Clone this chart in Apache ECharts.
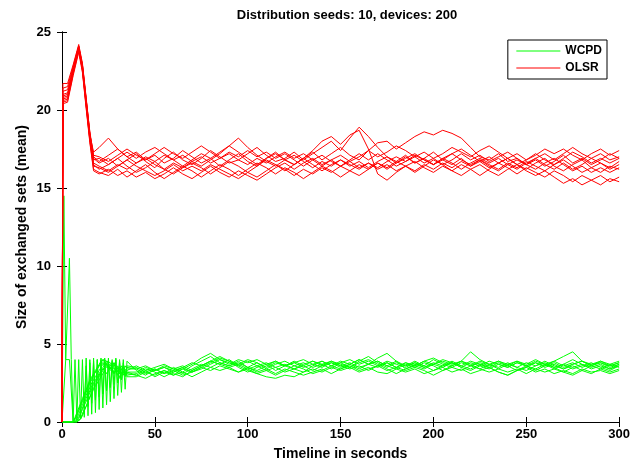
<!DOCTYPE html>
<html>
<head>
<meta charset="utf-8">
<script src="https://cdn.jsdelivr.net/npm/echarts@6/dist/echarts.min.js"></script>
<style>
  html, body { margin: 0; padding: 0; background: #fff; }
  #chart { width: 633px; height: 466px; }
</style>
</head>
<body>
<div id="chart"></div>
<script>
// ---------------- data ----------------
var xTicks = [0, 50, 100, 150, 200, 250, 300];
var yTicks = [0, 5, 10, 15, 20, 25];

// sample times (s)
var redHead = [0, 0.5, 3, 6, 9, 11, 13, 15, 17];
var greenHead = [0,1,2,3,4,5,6,7,8,9,10,11,12,13,14,15,16,17,18,19,20,21,22,23,24,25,26,27,28,29,30,31,32,33,34,35];
var tail = [20,25,30,35,40,45,50,55,60,65,70,75,80,85,90,95,100,105,110,115,120,125,130,135,140,145,150,155,160,165,170,175,180,185,190,195,200,205,210,215,220,225,230,235,240,245,250,255,260,265,270,275,280,285,290,295,300];

// OLSR runs (red): head at redHead, then tail 20..300
var olsr1 = [0,21.7,21.7,22.9,24.2,23.0,20.8,18.5,16.9,
  16.6,16.9,16.4,16.8,17.2,16.7,16.3,16.9,17.3,16.8, 16.5,16.9,17.4,17.0,16.6,16.8,17.2,17.6,17.1,16.7,
  16.9,17.3,16.8,17.2,17.6,18.0,17.4,18.2,18.9,18.3, 17.6,17.0,16.7,17.1,16.6,16.9,17.3,16.8,16.5,16.9,
  16.4,16.7,16.3,16.6,16.9,16.5,16.2,16.6,16.9,16.4, 16.1,16.5,16.8,16.3,16.0,16.4,16.2];
var olsr2 = [0,21.4,21.5,22.8,24.1,22.8,20.6,18.4,17.3,
  17.6,18.2,17.5,17.0,17.3,16.8,17.1,16.6,16.9,17.4, 17.0,16.6,16.9,16.4,16.8,17.2,16.7,16.4,16.9,17.3,
  16.8,16.5,16.9,17.3,16.8,17.2,17.6,17.1,16.8,17.4, 17.9,18.0,17.5,17.9,18.3,18.6,18.4,18.7,18.5,18.2,
  17.6,17.0,16.8,17.2,16.7,16.9,16.5,16.8,16.4,16.7, 17.1,16.6,16.9,16.5,16.8,17.2,16.9];
var olsr3 = [0,21.0,21.1,22.6,24.0,22.7,20.4,18.2,16.5,
  16.2,16.5,16.9,16.4,16.0,16.3,16.7,16.2,15.9,16.3, 16.7,16.4,16.8,17.2,17.7,18.2,17.6,17.1,16.7,16.4,
  16.8,16.5,16.9,17.4,18.0,18.3,17.8,18.4,18.7,17.5, 15.9,15.5,16.0,16.4,16.1,16.5,16.2,16.6,16.3,16.7,
  16.4,16.8,16.5,16.2,16.6,16.3,16.7,16.4,16.1,16.5, 16.8,16.4,16.0,16.3,16.6,16.2,16.5];
var olsr4 = [0,20.6,20.7,22.4,23.9,22.5,20.2,18.0,16.2,
  16.0,15.8,16.2,15.7,16.1,16.5,16.0,15.6,16.0,16.4, 16.1,15.7,16.1,16.5,16.2,15.8,16.2,16.6,16.3,15.9,
  16.3,16.0,15.6,16.0,16.4,16.1,15.7,16.1,16.5,16.2, 16.6,16.3,16.7,16.4,16.0,16.4,16.8,16.5,16.1,16.5,
  16.2,15.8,16.2,16.6,16.3,15.9,16.3,16.0,15.7,16.1, 15.8,15.4,15.8,15.5,15.2,15.6,15.4];
var olsr5 = [0,20.8,20.9,22.5,24.0,22.9,20.7,18.6,17.1,
  17.0,16.7,17.1,17.5,17.1,16.8,17.2,17.6,17.2,16.9, 17.3,17.7,17.3,16.9,17.2,16.8,16.5,16.9,16.6,17.0,
  17.3,16.9,17.2,16.8,16.4,16.8,17.1,16.7,17.0,17.4, 17.0,17.3,17.7,17.4,17.0,17.3,16.9,17.2,17.6,17.3,
  17.0,17.4,17.7,17.3,16.9,17.2,16.8,17.1,17.5,17.2, 17.5,17.1,16.8,17.2,17.5,17.1,17.4];
var olsr6 = [0,20.5,20.6,22.3,23.8,22.6,20.4,18.2,16.6,
  16.4,16.1,16.5,16.2,16.6,16.9,16.5,16.2,16.6,16.3, 16.6,16.3,15.9,16.3,16.7,16.4,16.0,16.4,16.8,16.5,
  16.1,16.5,16.9,16.5,16.1,16.5,16.8,16.4,16.7,16.3, 16.7,17.0,16.6,16.9,17.2,16.8,16.5,16.9,17.2,16.8,
  16.5,16.8,16.4,16.1,16.5,16.2,16.6,16.9,16.5,16.2, 16.6,16.2,16.5,16.9,16.6,16.3,16.7];
var olsr7 = [0,20.4,20.5,22.2,23.7,22.4,20.1,17.9,16.1,
  15.9,16.2,15.8,16.1,15.7,16.0,15.6,15.9,16.3,15.9, 15.6,16.0,16.4,16.0,15.7,16.1,15.8,15.5,15.9,16.3,
  16.6,16.2,16.6,16.9,16.5,16.8,16.4,16.7,16.3,16.6, 16.2,16.5,16.1,16.4,16.7,16.3,16.0,16.4,16.1,15.8,
  16.2,16.5,16.1,15.8,16.2,16.5,16.1,15.8,16.1,15.7, 15.3,15.6,15.2,15.5,15.8,15.4,15.7];
var olsr8 = [0,21.2,21.3,22.7,24.1,22.9,20.7,18.5,17.0,
  16.7,17.1,17.5,17.0,16.6,17.0,16.7,17.1,16.8,16.4, 16.8,17.2,16.9,17.3,17.7,17.3,16.9,16.5,16.9,17.2,
  16.8,17.1,16.7,16.3,16.7,16.4,16.8,16.5,16.2,16.6, 16.3,16.7,17.0,16.7,17.1,16.8,16.5,16.8,17.2,17.5,
  17.1,16.7,17.0,16.6,16.9,16.5,16.8,17.2,16.8,16.5, 16.9,17.3,17.0,16.6,16.9,16.6,16.9];
var olsr9 = [0,20.7,20.8,22.4,23.9,22.6,20.3,18.1,16.4,
  16.3,16.0,16.4,16.8,16.4,16.1,15.8,16.1,16.5,16.1, 16.4,16.1,16.5,16.2,15.9,15.6,16.0,15.7,16.1,16.5,
  16.2,15.8,16.2,15.9,16.3,16.0,16.4,16.1,15.8,16.2, 16.6,16.2,16.6,17.0,16.6,16.9,16.5,16.9,16.6,16.2,
  16.6,16.9,16.6,16.9,16.5,16.8,16.5,16.2,16.6,16.9, 16.5,16.1,16.4,16.0,16.3,16.0,16.3];
var olsr10 = [0,20.9,21.0,22.6,24.0,22.8,20.6,18.4,16.8,
  16.9,16.5,16.9,17.3,16.9,17.3,17.6,17.2,16.8,17.1, 16.7,17.0,16.6,16.9,17.3,17.0,17.4,17.0,17.3,16.9,
  17.2,16.8,16.4,16.8,17.1,16.7,16.4,16.8,17.2,16.8, 17.2,16.8,16.4,16.7,17.0,16.6,16.9,16.5,16.8,17.2,
  16.8,17.1,16.7,17.0,17.3,16.9,16.5,16.9,17.2,16.8, 17.2,17.6,17.2,16.9,17.2,16.8,17.0];

// WCPD runs (green): head at greenHead (0..35 s), then tail 40..300
var wcpd1 = [0,14.5,4,4,10.5,4,0,4,0.1,4, 0.2,4,0.3,4.1,0.4,4,0.5,4.1,0.6,4, 0.8,4.1,0.9,4,1.1,4.1,1.3,4,1.5,4.1, 1.7,4,1.9,4,2.1,3.9,
  3.3,3.0,3.4,3.1,3.5,3.2,3.6,3.9,4.2,3.8, 3.6,3.9,3.5,3.8,3.4,3.7,3.9,3.6,3.8,3.5,
  3.7,3.4,3.8,3.5,3.9,4.2,3.8,3.5,3.8,3.6, 3.9,3.6,4.0,3.7,3.5,3.8,3.6,3.9,3.7,3.4,
  3.7,3.5,3.8,3.6,3.9,3.6,3.4,3.7,3.9,3.6, 3.4,3.7,3.5];
var wcpd2 = [0,0,4,4,4,4,0,0,0,0, 0.2,0.4,0.7,1.0,1.3,1.6,1.9,2.2,2.4,2.7, 2.9,3.1,3.3,3.5,3.7,3.6,3.4,3.6,3.8,3.6, 3.4,3.2,3.4,3.6,3.3,3.1,
  3.0,3.3,2.9,3.2,3.0,3.4,3.2,3.5,3.8,4.1, 3.9,3.5,3.2,3.5,3.7,3.3,3.6,3.9,3.6,3.3,
  3.6,3.8,3.5,3.7,3.4,3.7,3.9,3.6,3.4,3.7, 3.5,3.8,3.6,3.3,3.6,3.9,3.7,3.4,3.7,3.5,
  3.8,3.5,3.3,3.6,3.8,3.5,3.7,3.4,3.6,3.8, 3.5,3.3,3.6];
var wcpd3 = [0,0,0,0,0,0,0,0,0,0, 0.2,0.5,0.8,3.6,1.0,3.8,1.2,3.9,1.4,4.0, 1.6,4.0,1.8,4.1,2.0,4.0,2.2,3.9,2.4,4.0, 2.5,3.9,2.7,3.8,2.9,3.6,
  3.5,3.2,3.0,3.3,3.1,2.9,3.3,3.6,3.9,3.7, 4.0,3.6,3.3,3.1,2.9,2.8,3.0,2.9,3.2,3.6,
  3.9,3.6,3.9,3.7,4.0,3.7,3.5,3.8,3.5,3.8, 3.6,3.9,3.7,4.0,3.8,3.5,3.8,3.6,3.9,3.7,
  3.5,3.8,3.6,3.3,3.6,3.9,3.6,3.8,3.5,3.7, 3.9,3.6,3.8];
var wcpd4 = [0,0,0,0,0,0,0,0.2,0.5,0.8, 1.1,1.4,1.7,2.0,2.3,2.6,2.8,3.0,3.2,3.4, 3.6,3.8,4.0,4.1,3.9,3.7,3.8,3.6,3.4,3.5, 3.3,3.1,3.3,3.5,3.2,3.0,
  3.1,3.4,3.2,2.9,3.2,3.5,3.2,3.4,3.7,4.0, 3.8,3.6,3.9,3.6,3.3,3.0,3.3,3.6,3.4,3.1,
  3.3,3.6,3.4,3.7,4.0,3.7,4.1,4.4,3.9,3.4, 3.6,3.4,3.7,3.5,3.8,3.5,3.3,3.6,3.4,3.7,
  3.5,3.8,3.6,3.9,3.7,3.4,3.7,4.0,3.7,3.5, 3.7,3.4,3.6];
var wcpd5 = [0,0,0,0,0,0,0,0,0.2,0.5, 0.8,1.1,1.4,1.7,2.0,2.2,2.5,2.7,2.9,3.1, 3.3,3.5,3.7,3.9,3.7,3.5,3.6,3.4,3.2,3.4, 3.6,3.4,3.2,3.0,3.3,3.5,
  3.4,3.6,3.3,3.5,3.2,3.4,3.7,4.1,4.4,4.0, 3.7,4.0,3.8,4.0,3.7,3.9,3.6,3.8,4.0,3.7,
  3.9,3.6,3.8,4.0,3.7,3.9,3.6,3.8,3.5,3.8, 3.6,3.9,4.1,3.8,3.6,3.9,4.5,4.0,3.7,3.9,
  3.6,3.9,3.7,4.0,3.7,3.9,4.2,4.5,3.9,3.6, 3.9,3.7,3.9];
var wcpd6 = [0,0,0,0,0,0,0,0,0,0.2, 0.5,0.8,1.1,1.3,1.6,1.9,2.1,2.4,2.6,2.8, 3.0,3.2,3.4,3.3,3.5,3.7,3.5,3.3,3.1,3.3, 3.1,2.9,3.1,3.3,3.1,2.9,
  2.9,3.2,3.4,3.1,3.3,3.0,3.2,3.5,3.3,3.6, 3.4,3.2,3.5,3.2,3.4,3.1,3.4,3.2,3.0,3.2,
  3.4,3.1,3.4,3.6,3.3,3.5,3.2,3.1,3.4,3.2, 3.4,3.1,3.3,3.5,3.2,3.4,3.1,3.3,3.5,3.2,
  3.0,3.3,3.5,3.2,3.4,3.1,3.3,3.1,3.4,3.2, 3.3,3.1,3.3];
var wcpd7 = [0,0,0,0,0,0,0,0.3,0.6,0.9, 1.2,1.5,1.8,2.1,2.4,2.7,2.9,3.1,3.3,3.5, 3.7,3.9,3.8,3.6,3.8,3.5,3.3,3.5,3.7,3.4, 3.2,3.4,3.6,3.3,3.1,3.3,
  3.6,3.3,3.5,3.7,3.4,3.6,3.3,3.6,3.9,4.2, 3.9,3.7,4.0,3.8,3.5,3.8,3.6,3.4,3.7,3.9,
  3.6,3.9,3.7,3.5,3.8,4.0,3.7,3.4,3.1,3.4, 3.7,3.5,3.8,3.6,3.9,3.6,3.4,3.7,3.5,3.8,
  3.6,3.3,3.5,3.8,3.5,3.7,3.4,3.6,3.3,3.6, 3.8,3.5,3.7];
var wcpd8 = [0,0,0,0,0,0,0,0,0.1,0.3, 0.6,0.9,1.2,1.5,1.8,2.0,2.3,2.5,2.7,2.9, 3.1,3.3,3.5,3.7,3.9,4.0,3.8,3.6,3.8,3.5, 3.3,3.1,3.4,3.2,3.0,3.2,
  3.2,3.5,3.3,3.6,3.4,3.1,3.4,3.7,3.5,3.8, 3.6,3.8,3.5,3.3,3.6,3.9,3.6,3.8,3.5,3.7,
  3.5,3.8,3.6,3.4,3.6,3.3,3.6,3.9,3.7,3.5, 3.8,3.6,3.3,3.6,3.8,3.6,3.9,3.7,3.5,3.2,
  3.0,3.3,3.6,3.4,3.7,3.5,3.2,3.5,3.7,3.4, 3.6,3.4,3.7];
var wcpd9 = [0,0,0,0,0,0,0,0,0,0, 0.2,0.5,0.8,1.0,1.3,1.6,1.8,2.1,2.3,2.5, 2.7,2.9,3.1,3.3,3.1,3.3,3.5,3.3,3.1,3.3, 3.0,2.8,3.0,3.2,3.0,3.2,
  3.0,2.8,3.1,3.3,3.0,3.2,2.9,3.2,3.5,3.3, 3.5,3.2,3.4,3.1,3.3,3.5,3.2,3.4,3.2,3.4,
  3.2,3.5,3.3,3.5,3.2,3.4,3.6,3.3,3.5,3.3, 3.5,3.3,3.0,3.3,3.5,3.3,3.6,3.4,3.2,3.4,
  3.2,3.4,3.1,3.4,3.2,3.4,3.2,3.0,3.3,3.1, 3.4,3.2,3.4];
var wcpd10 = [0,0,0,0,0,0,0,0.1,0.4,0.7, 1.0,1.3,1.6,1.9,2.2,2.5,2.7,3.0,3.2,3.4, 3.6,3.8,4.0,3.8,3.6,3.4,3.6,3.8,3.5,3.3, 3.5,3.3,3.1,3.4,3.6,3.4,
  3.4,3.1,3.3,3.5,3.3,3.5,3.8,3.6,3.9,3.7, 3.5,3.7,3.4,3.6,3.8,3.5,3.7,3.4,3.6,3.9,
  3.7,3.9,3.6,3.8,3.5,3.7,3.9,3.6,3.9,3.6, 3.8,3.5,3.7,3.9,3.7,3.9,3.6,3.8,3.6,3.9,
  3.7,3.9,3.6,3.8,3.6,3.8,3.5,3.7,3.9,3.7, 3.8,3.6,3.8];

var wcpdRuns = [wcpd1, wcpd2, wcpd3, wcpd4, wcpd5, wcpd6, wcpd7, wcpd8, wcpd9, wcpd10];
var olsrRuns = [olsr1, olsr2, olsr3, olsr4, olsr5, olsr6, olsr7, olsr8, olsr9, olsr10];

// ---------------- build ----------------
var redTimes = redHead.concat(tail);
var greenTimes = greenHead.concat(tail.slice(4));

function pairs(times, vals) {
  var out = [];
  for (var i = 0; i < vals.length && i < times.length; i++) {
    out.push([times[i], vals[i]]);
  }
  return out;
}

var FONT = '"Liberation Sans", Arial, sans-serif';
var series = [];
for (var i = 0; i < wcpdRuns.length; i++) {
  series.push({
    name: 'WCPD', type: 'line', symbol: 'none', animation: false,
    data: pairs(greenTimes, wcpdRuns[i]),
    lineStyle: { color: '#00ff00', width: 1 }, itemStyle: { color: '#00ff00' }
  });
}
for (var j = 0; j < olsrRuns.length; j++) {
  series.push({
    name: 'OLSR', type: 'line', symbol: 'none', animation: false,
    data: pairs(redTimes, olsrRuns[j]),
    lineStyle: { color: '#ff0000', width: 1 }, itemStyle: { color: '#ff0000' }
  });
}

var tickTxt = { fontFamily: FONT, fontWeight: 'bold', fontSize: 13, color: '#000' };
var nameTxt = { fontFamily: FONT, fontWeight: 'bold', fontSize: 14, color: '#000' };

var myChart = echarts.init(document.getElementById('chart'), null, { renderer: 'canvas' });
var option = {
  animation: false,
  backgroundColor: '#fff',
  title: {
    text: 'Distribution seeds: 10, devices: 200',
    left: 342, top: 4, textAlign: 'center',
    textStyle: { fontFamily: FONT, fontWeight: 'bold', fontSize: 13, color: '#000' }
  },
  grid: { left: 62, right: 13, top: 32, bottom: 38 },
  legend: {
    orient: 'vertical', right: 26, top: 40,
    data: ['WCPD', 'OLSR'],
    itemWidth: 44, itemHeight: 12, itemGap: 5,
    padding: [5, 5, 5, 8],
    itemStyle: { opacity: 0 },
    lineStyle: { width: 1 },
    borderColor: '#000', borderWidth: 1, backgroundColor: '#fff',
    textStyle: { fontFamily: FONT, fontWeight: 'bold', fontSize: 12, color: '#000' }
  },
  xAxis: [{
    type: 'value', min: xTicks[0], max: xTicks[xTicks.length - 1], interval: 50,
    name: 'Timeline in seconds', nameLocation: 'middle', nameGap: 25,
    nameTextStyle: nameTxt,
    axisLine: { lineStyle: { color: '#000', width: 1 } },
    axisTick: { inside: true, length: 5, lineStyle: { color: '#000' } },
    axisLabel: Object.assign({ margin: 6 }, tickTxt), splitLine: { show: false }
  }, {
    type: 'value', position: 'top', min: xTicks[0], max: xTicks[xTicks.length - 1], interval: 50,
    axisLine: { lineStyle: { color: '#000', width: 1 } },
    axisTick: { inside: true, length: 5, lineStyle: { color: '#000' } },
    axisLabel: { show: false }, splitLine: { show: false }
  }],
  yAxis: [{
    type: 'value', min: yTicks[0], max: yTicks[yTicks.length - 1], interval: 5,
    name: 'Size of exchanged sets (mean)', nameLocation: 'middle', nameGap: 33,
    nameMoveOverlap: false,
    nameTextStyle: nameTxt,
    axisLine: { show: true, lineStyle: { color: '#000', width: 1 } },
    axisTick: { show: true, inside: true, length: 5, lineStyle: { color: '#000' } },
    axisLabel: Object.assign({ margin: 11 }, tickTxt), splitLine: { show: false }
  }, {
    type: 'value', position: 'right', min: yTicks[0], max: yTicks[yTicks.length - 1], interval: 5,
    axisLine: { show: true, lineStyle: { color: '#000', width: 1 } },
    axisTick: { show: true, inside: true, length: 5, lineStyle: { color: '#000' } },
    axisLabel: { show: false }, splitLine: { show: false }
  }],
  series: series
};
myChart.setOption(option);
</script>
</body>
</html>
